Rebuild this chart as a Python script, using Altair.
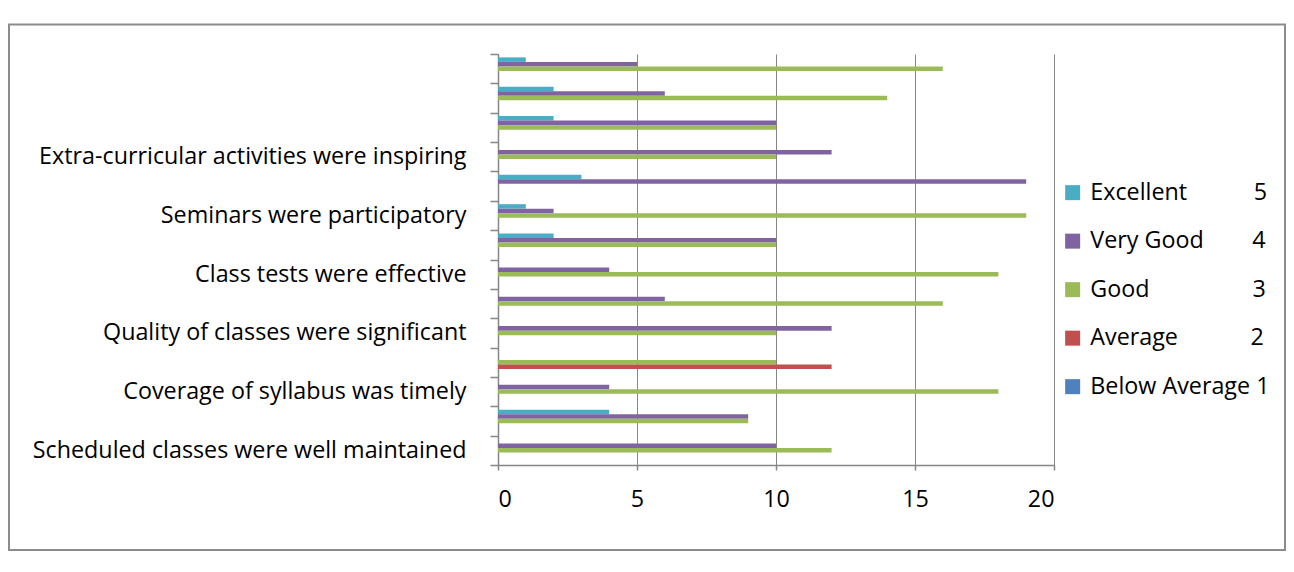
import json
import altair as alt
import pandas as pd

# categories from bottom to top (blank = label not shown in the original)
categories = [
    "Scheduled classes were well maintained", "",
    "Coverage of syllabus was timely", "",
    "Quality of classes were significant", "",
    "Class tests were effective", "",
    "Seminars were participatory", "",
    "Extra-curricular activities were inspiring", "", "", "",
]
below_average = [0, 0, 0, 0, 0, 0, 0, 0, 0, 0, 0, 0, 0, 0]
average       = [0, 0, 0, 12, 0, 0, 0, 0, 0, 0, 0, 0, 0, 0]
good          = [12, 9, 18, 10, 10, 16, 18, 10, 19, 0, 10, 10, 14, 16]
very_good     = [10, 9, 4, 0, 12, 6, 4, 10, 2, 19, 12, 10, 6, 5]
excellent     = [0, 4, 0, 0, 0, 0, 0, 2, 1, 3, 0, 2, 2, 1]

series_names = ["Excellent", "Very Good", "Good", "Average", "Below Average"]
series_values = [excellent, very_good, good, average, below_average]
series_colors = ["#4BACC6", "#8064A2", "#9BBB59", "#C0504D", "#4F81BD"]
NB = "\u00a0"
legend_labels = [
    "Excellent" + NB * 11 + "5",
    "Very Good" + NB * 8 + "4",
    "Good" + NB * 17 + "3",
    "Average" + NB * 12 + "2",
    "Below Average 1",
]
x_ticks = [0, 5, 10, 15, 20]

rows = []
for name, vals in zip(series_names, series_values):
    for i, v in enumerate(vals):
        rows.append({"pos": i, "series": name, "value": v})
df = pd.DataFrame(rows)

FONT = "Open Sans"
FS = 23.3
GRAY = "#868686"

label_map = json.dumps(categories)
legend_map = json.dumps(dict(zip(series_names, legend_labels)))

bars = alt.Chart(df).mark_bar().encode(
    x=alt.X("value:Q",
            scale=alt.Scale(domain=[0, 20], nice=False, zero=True),
            axis=alt.Axis(values=x_ticks, title=None, grid=True, gridColor=GRAY,
                          gridWidth=1, domainColor=GRAY, domainWidth=1.5,
                          tickColor=GRAY, tickSize=5, tickWidth=1.5,
                          labelFont=FONT, labelFontSize=FS, labelColor="black",
                          labelPadding=18)),
    y=alt.Y("pos:O", sort="descending",
            scale=alt.Scale(paddingInner=0, paddingOuter=0),
            axis=alt.Axis(title=None, labelExpr=f"{label_map}[datum.value]",
                          tickBand="extent", tickSize=8, tickColor=GRAY,
                          tickWidth=1.5, domainColor=GRAY, domainWidth=1.5,
                          labelFont=FONT, labelFontSize=FS, labelColor="black",
                          labelPadding=24, labelLimit=0)),
    yOffset=alt.YOffset("series:N",
                        scale=alt.Scale(domain=series_names, paddingInner=0,
                                        paddingOuter=0.75)),
    color=alt.Color("series:N",
                    scale=alt.Scale(domain=series_names, range=series_colors),
                    legend=alt.Legend(title=None, orient="none", legendX=563,
                                      legendY=127, symbolType="square",
                                      symbolSize=225, symbolStrokeWidth=0,
                                      labelFont=FONT, labelFontSize=FS,
                                      labelColor="black", rowPadding=24.5,
                                      labelOffset=6, labelLimit=0,
                                      labelExpr=f"{legend_map}[datum.label]")),
)

frame = alt.Chart(alt.Data(values=[{}])).mark_rect(
    fill=None, stroke="#8C8C8C", strokeWidth=2
).encode(
    x=alt.value(-489), x2=alt.value(787),
    y=alt.value(-29.5), y2=alt.value(496),
)

chart = alt.layer(bars, frame).properties(
    width=556, height=411,
    autosize=alt.AutoSizeParams(type="none"),
    padding={"left": 490, "top": 46, "right": 232, "bottom": 86},
).configure_view(stroke=None)

chart.save("out.html", embed_options={"renderer": "svg", "actions": False})
